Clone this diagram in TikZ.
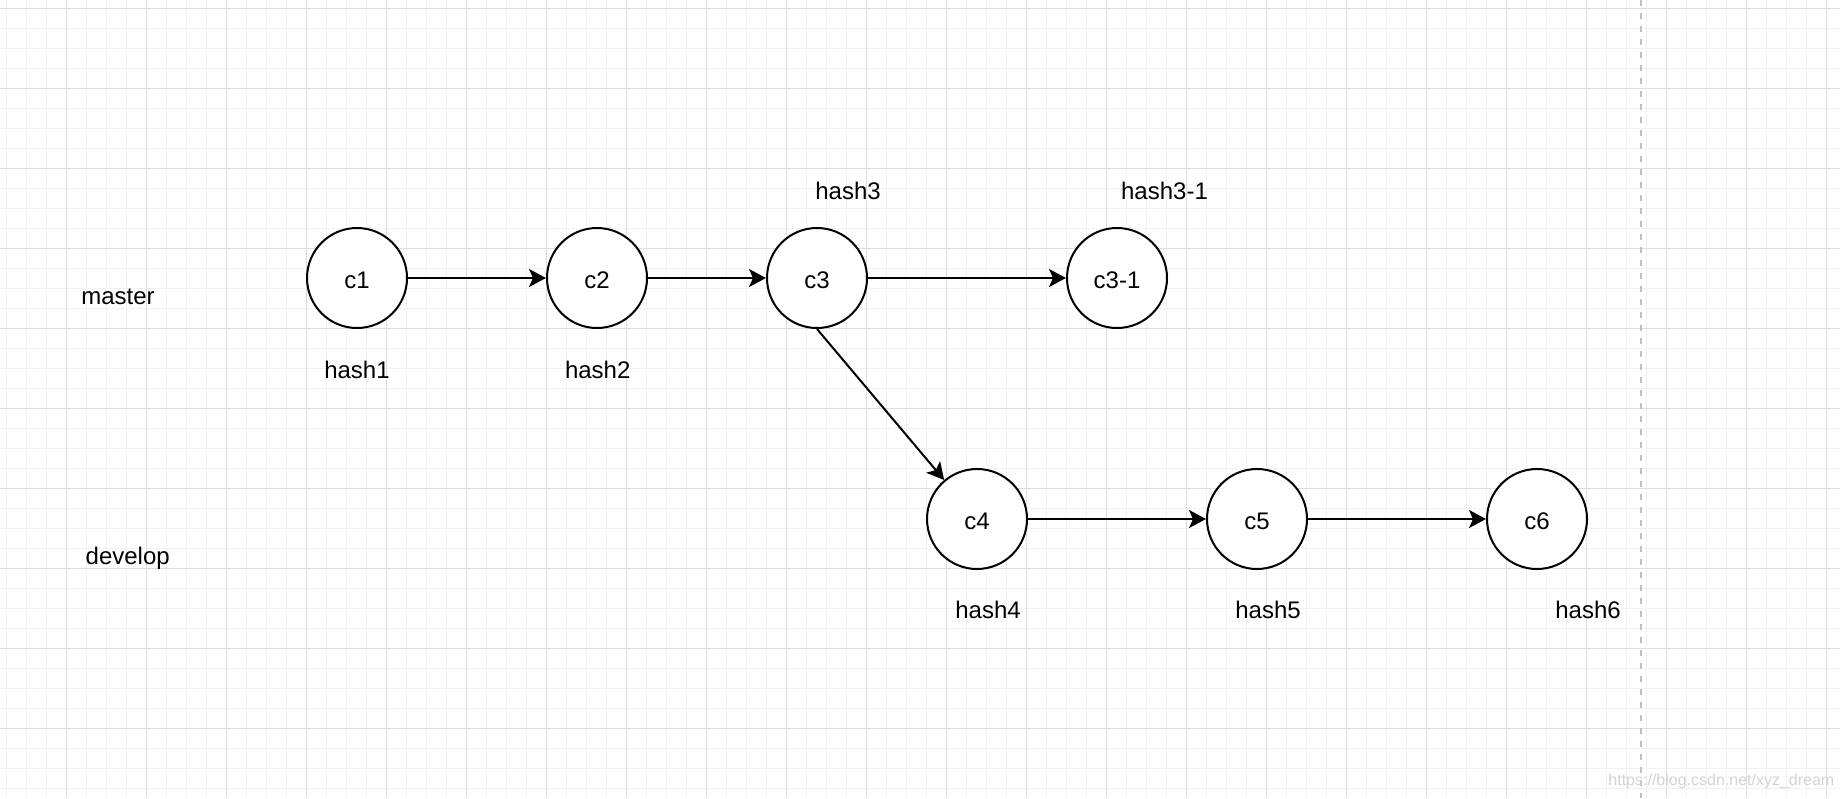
\documentclass[tikz,border=0pt]{standalone}
\usepackage{fontspec}
\setmainfont{Liberation Sans}
\usetikzlibrary{arrows.meta}
\tikzset{
  commit/.style={circle, draw=black, fill=white, line width=1pt, minimum size=50pt,
    inner sep=0pt, text height=10pt, text depth=0pt, font=\fontsize{12}{14}\selectfont},
  lbl/.style={anchor=base, inner sep=0pt, font=\fontsize{12}{14}\selectfont},
  link/.style={line width=1pt, -{Stealth[length=8.5pt,width=9pt,inset=2pt]}},
  gridminor/.style={draw=black!5, line width=0.5pt},
  gridmajor/.style={draw=black!13, line width=0.5pt},
  pagebreak/.style={draw=black!25, line width=1pt, dash pattern=on 3pt off 3.5pt},
  watermark/.style={anchor=base west, inner sep=0pt, text=black!17,
    font=\fontsize{8}{9}\selectfont},
}
\begin{document}
\begin{tikzpicture}[x=0.5pt, y=-0.5pt]
  \useasboundingbox (0,0) rectangle (1840,798);
  \fill[white] (0,0) rectangle (1840,798);
  % grid
  \foreach \i in {0,...,91} \draw[gridminor] ({6.7+20*\i},0) -- ({6.7+20*\i},798);
  \foreach \j in {0,...,39} \draw[gridminor] (0,{8.3+20*\j}) -- (1840,{8.3+20*\j});
  \foreach \i in {0,...,22} \draw[gridmajor] ({66.7+80*\i},0) -- ({66.7+80*\i},798);
  \foreach \j in {0,...,9} \draw[gridmajor] (0,{8.3+80*\j}) -- (1840,{8.3+80*\j});
  % page break line
  \coordinate (dtop) at (1640.7,0);
  \coordinate (dbot) at (1640.7,798);
  \draw[pagebreak] (dtop) -- (dbot);
  % branch names
  \node[lbl] (master) at (118,304.3) {master};
  \node[lbl] (develop) at (127.7,564.9) {develop};
  % commits
  \node[commit] (c1) at (357,278) {c1};
  \node[commit] (c2) at (597,278) {c2};
  \node[commit] (c3) at (817,278) {c3};
  \node[commit] (c31) at (1117,278) {c3-1};
  \node[commit] (c4) at (977,519) {c4};
  \node[commit] (c5) at (1257,519) {c5};
  \node[commit] (c6) at (1537,519) {c6};
  % hashes
  \node[lbl] (h1) at (357,378.3) {hash1};
  \node[lbl] (h2) at (597.7,378.3) {hash2};
  \node[lbl] (h3) at (848,199.3) {hash3};
  \node[lbl] (h31) at (1164.5,199.3) {hash3-1};
  \node[lbl] (h4) at (988,618.3) {hash4};
  \node[lbl] (h5) at (1268,618.3) {hash5};
  \node[lbl] (h6) at (1588,618.3) {hash6};
  % connectors
  \draw[link] (c1) -- (c2);
  \draw[link] (c2) -- (c3);
  \draw[link] (c3) -- (c31);
  \draw[link] (c3.south) -- (c4);
  \draw[link] (c4) -- (c5);
  \draw[link] (c5) -- (c6);
  % watermark
  \node[watermark] (wm) at (1608,785) {https://blog.csdn.net/xyz\_dream};
\end{tikzpicture}
\end{document}
